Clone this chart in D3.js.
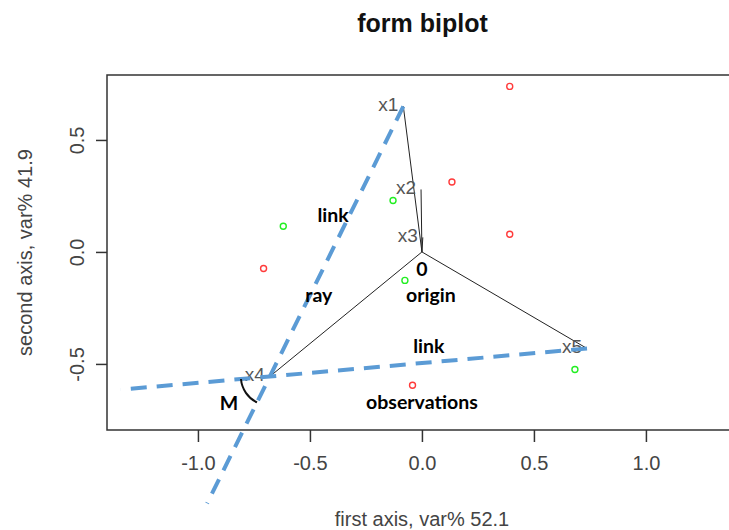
<!DOCTYPE html>
<html>
<head>
<meta charset="utf-8">
<script src="https://cdn.jsdelivr.net/npm/d3@7"></script>
<style>
  body { margin: 0; background: #fff; }
  svg { display: block; }
</style>
</head>
<body>
<div id="chart"></div>
<script>
// variable vectors (rays from origin)
const varNames = ["x1", "x2", "x3", "x4", "x5"];
const varX = [-0.083, -0.004, 0.004, -0.679, 0.737];
const varY = [0.650, 0.279, 0.065, -0.556, -0.431];

// observations
const obsRedX = [0.392, 0.134, 0.392, -0.707, -0.042];
const obsRedY = [0.739, 0.312, 0.079, -0.074, -0.595];
const obsGreenX = [-0.619, -0.129, -0.076, 0.683];
const obsGreenY = [0.115, 0.230, -0.127, -0.525];

// links: from variable, through the second variable, extended past it
const linkFrom = ["x1", "x5"];
const linkThrough = ["x4", "x4"];
const linkExtend = 0.47;

// annotations
const noteText = ["link", "ray", "0", "origin", "link", "observations", "M"];
const noteX = [-0.397, -0.46, 0.0, 0.04, 0.031, 0.0, -0.862];
const noteY = [0.158, -0.203, -0.087, -0.203, -0.431, -0.681, -0.685];

const xTicks = [-1.0, -0.5, 0.0, 0.5, 1.0];
const yTicks = [-0.5, 0.0, 0.5];

const width = 729, height = 530;
const box = { left: 107, top: 75, bottom: 430, right: 740 };

const x = d3.scaleLinear().domain([-1.406, 1.42]).range([box.left, box.right]);
const y = d3.scaleLinear().domain([-0.795, 0.79]).range([box.bottom, box.top]);

const svg = d3.select("#chart").append("svg")
  .attr("width", width)
  .attr("height", height);

const axisFont = "'Liberation Sans', Arial, sans-serif";
const axisCol = "#444";
const fmt = d => d.toFixed(1);   // plain hyphen, like R

// title
svg.append("text")
  .attr("x", (box.left + box.right) / 2 - 1)
  .attr("y", 32)
  .attr("text-anchor", "middle")
  .style("font-family", axisFont)
  .style("font-weight", "bold")
  .style("font-size", "25px")
  .style("fill", "#111")
  .text("form biplot");

// box: left, top, bottom (the right side runs off the picture)
svg.append("path")
  .attr("d", `M${box.right + 20},${box.top}H${box.left}V${box.bottom}H${box.right + 20}`)
  .style("fill", "none")
  .style("stroke", "#333")
  .style("stroke-width", 1.5);

// x axis
svg.append("g")
  .attr("transform", `translate(0,${box.bottom})`)
  .call(d3.axisBottom(x).tickValues(xTicks).tickSize(12).tickPadding(14).tickFormat(fmt))
  .call(g => g.select(".domain").remove())
  .call(g => g.selectAll("line").style("stroke", "#333").style("stroke-width", 1.5))
  .call(g => g.selectAll("text")
    .style("font-family", axisFont).style("font-size", "20px").style("fill", axisCol));

// y axis, labels rotated like R
svg.append("g")
  .attr("transform", `translate(${box.left},0)`)
  .call(d3.axisLeft(y).tickValues(yTicks).tickSize(11).tickFormat(fmt))
  .call(g => g.select(".domain").remove())
  .call(g => g.selectAll("line").style("stroke", "#333").style("stroke-width", 1.5))
  .call(g => g.selectAll("text")
    .attr("x", null).attr("dy", null)
    .attr("transform", "translate(-28,0) rotate(-90)")
    .attr("text-anchor", "middle")
    .attr("dominant-baseline", "middle")
    .style("font-family", axisFont).style("font-size", "20px").style("fill", axisCol));

svg.append("text")
  .attr("x", (box.left + 729) / 2 + 4)
  .attr("y", 526)
  .attr("text-anchor", "middle")
  .style("font-family", axisFont)
  .style("font-size", "20px")
  .style("fill", axisCol)
  .text("first axis, var% 52.1");

svg.append("text")
  .attr("transform", `translate(27,${(box.top + box.bottom) / 2}) rotate(-90)`)
  .attr("text-anchor", "middle")
  .attr("dominant-baseline", "middle")
  .style("font-family", axisFont)
  .style("font-size", "20px")
  .style("fill", axisCol)
  .text("second axis, var% 41.9");

// rays
const vars = varNames.map((n, i) => ({ name: n, x: varX[i], y: varY[i] }));
const byName = Object.fromEntries(vars.map(d => [d.name, d]));

svg.append("g")
  .selectAll("line")
  .data(vars)
  .join("line")
  .attr("x1", x(0)).attr("y1", y(0))
  .attr("x2", d => x(d.x)).attr("y2", d => y(d.y))
  .style("stroke", "#222")
  .style("stroke-width", 1);

svg.append("g")
  .selectAll("text")
  .data(vars)
  .join("text")
  .attr("x", d => x(d.x) - 5)
  .attr("y", d => y(d.y))
  .attr("text-anchor", "end")
  .attr("dominant-baseline", "middle")
  .style("font-family", axisFont)
  .style("font-size", "19px")
  .style("fill", "#555")
  .text(d => d.name);

// links (dashed)
const links = linkFrom.map((f, i) => {
  const a = byName[f], b = byName[linkThrough[i]];
  return {
    a, b,
    ex: b.x + linkExtend * (b.x - a.x),
    ey: b.y + linkExtend * (b.y - a.y)
  };
});

svg.append("g")
  .selectAll("line")
  .data(links)
  .join("line")
  .attr("x1", d => x(d.a.x)).attr("y1", d => y(d.a.y))
  .attr("x2", d => x(d.ex)).attr("y2", d => y(d.ey))
  .style("stroke", "#5b9bd5")
  .style("stroke-width", 4)
  .style("stroke-dasharray", "16,10");

// angle M between the two links at x4
{
  const c = byName["x4"];
  const cx = x(c.x), cy = y(c.y);
  const ang = links.map(d => Math.atan2(y(d.ey) - cy, x(d.ex) - cx));
  const p = d3.path();
  p.arc(cx, cy, 29, Math.min(...ang), Math.max(...ang));
  svg.append("path")
    .attr("d", p.toString())
    .style("fill", "none")
    .style("stroke", "#111")
    .style("stroke-width", 2);
}

// observations
const obs = obsRedX.map((v, i) => ({ x: v, y: obsRedY[i], c: "#ff3b3b" }))
  .concat(obsGreenX.map((v, i) => ({ x: v, y: obsGreenY[i], c: "#22ee22" })));

svg.append("g")
  .selectAll("circle")
  .data(obs)
  .join("circle")
  .attr("cx", d => x(d.x))
  .attr("cy", d => y(d.y))
  .attr("r", 3)
  .style("fill", "none")
  .style("stroke", d => d.c)
  .style("stroke-width", 1.4);

// annotations
svg.append("g")
  .selectAll("text")
  .data(noteText.map((t, i) => ({ t, x: noteX[i], y: noteY[i] })))
  .join("text")
  .attr("x", d => x(d.x))
  .attr("y", d => y(d.y))
  .attr("text-anchor", "middle")
  .attr("dominant-baseline", "middle")
  .style("font-family", "Lato, 'Open Sans', sans-serif")
  .style("font-weight", "bold")
  .style("font-size", "19.5px")
  .style("fill", "#000")
  .text(d => d.t);
</script>
</body>
</html>
